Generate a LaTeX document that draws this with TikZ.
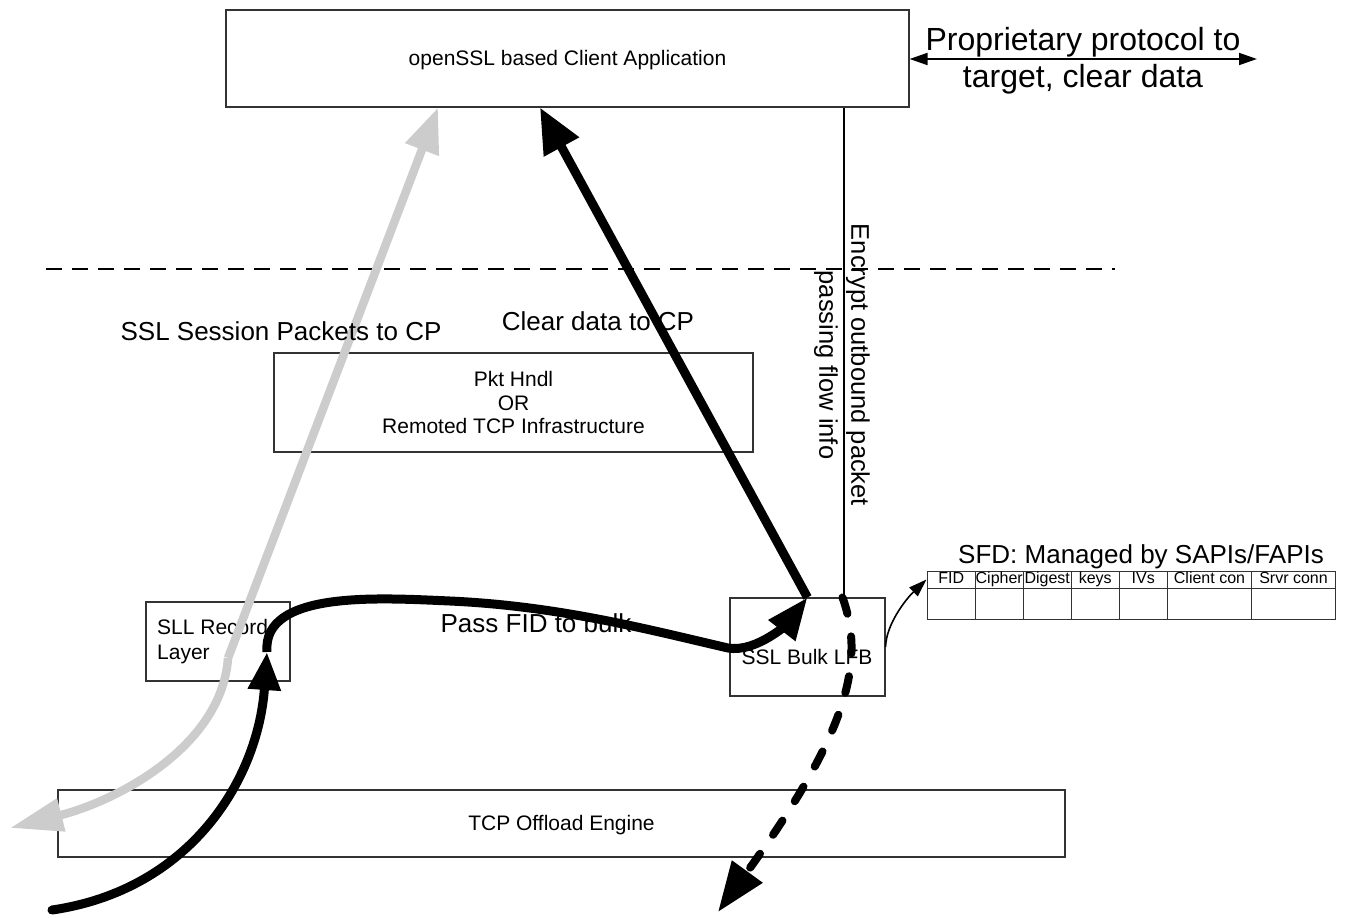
\documentclass[tikz,border=0pt]{standalone}
\usepackage{fontspec}
\setmainfont{Liberation Sans}
\usetikzlibrary{arrows.meta}
\begin{document}
\begin{tikzpicture}[x=1pt,y=-1pt,
  box/.style={draw=black!80, line width=1.1pt, inner sep=0pt},
  boxtxt/.style={font=\fontsize{21}{24}\selectfont, align=center, inner sep=0pt},
  lbl/.style={font=\fontsize{26}{31}\selectfont, inner sep=0pt},
  cell/.style={draw=black!80, line width=1pt, inner sep=0pt, font=\fontsize{16}{18}\selectfont},
  blackarrow/.style={line width=9pt, -{Triangle[length=45pt,width=38pt]}},
  greyarrow/.style={draw=black!20, line width=8.5pt, -{Triangle[length=45pt,width=34pt]}},
  thinarrow/.style={line width=1.6pt, -{Triangle[length=18pt,width=12pt]}}
]
\useasboundingbox (0,0) rectangle (1345,918);

% boxes
\node[box, minimum width=683pt, minimum height=97pt] (app) at (567.5,58.5) {};
\node[boxtxt] (apptxt) at ([yshift=-2pt]app.center) {openSSL based Client Application};
\node[box, boxtxt, minimum width=479pt, minimum height=99pt, font=\fontsize{21}{23.5}\selectfont] (pkt) at (513.5,402.5) {Pkt Hndl\\OR\\Remoted TCP Infrastructure};
\node[box, minimum width=144pt, minimum height=79pt] (sll) at (218,641.5) {};
\node[boxtxt, align=left, anchor=north west, font=\fontsize{21}{25.5}\selectfont] (slltxt) at (157,619) {SLL Record\\Layer};
\node[box, minimum width=155pt, minimum height=98pt] (bulk) at (807.5,647) {};
\node[boxtxt] (bulktxt) at (807,657) {SSL Bulk LFB};
\node[box, minimum width=1007pt, minimum height=67pt] (tcp) at (561.5,823.5) {};
\node[boxtxt] (tcptxt) at ([yshift=-2pt]tcp.center) {TCP Offload Engine};

% table
\node[lbl] (sfd) at (1141,557) {SFD: Managed by SAPIs/FAPIs};
\foreach \n/\a/\b/\t in {c1/927/975.5/FID, c2/975.5/1023/Cipher, c3/1023/1071.5/Digest, c4/1071.5/1119/keys, c5/1119/1167.5/IVs, c6/1167.5/1251.5/Client con, c7/1251.5/1335.5/Srvr conn}{
  \node[cell, minimum width=\b pt-\a pt, minimum height=17pt, text height=11.5pt, text depth=3.5pt] (h\n) at ({(\a+\b)/2},579.5) {\t};
  \node[cell, minimum width=\b pt-\a pt, minimum height=31pt] (r\n) at ({(\a+\b)/2},603.5) {};
}

% dashed separator
\coordinate (d1) at (46,269);
\coordinate (d2) at (1115,269);
\draw[line width=1.6pt, dash pattern=on 16pt off 10pt] (d1) -- (d2);

% thin connectors
\coordinate (pr) at (1257,59);
\draw[line width=1.8pt, {Triangle[length=18pt,width=12pt]}-{Triangle[length=18pt,width=12pt]}] (app.east |- pr) -- (pr);
\draw[line width=1.5pt] ([xshift=276.5pt]app.south) -- ([xshift=36.5pt]bulk.north);
\draw[thinarrow] (bulk.east) .. controls (886,625) and (905,600) .. (hc1.west);

% grey arrows
\coordinate (g0) at (228,658);
\coordinate (g1) at (10,828);
\draw[greyarrow] (g0) -- ([xshift=-129.5pt]app.south);
\draw[greyarrow, -{Triangle[length=53pt,width=32pt]}] (g0) .. controls (222,745) and (120,800) .. (g1);

% labels
\node[lbl] (ssl) at (281,331) {SSL Session Packets to CP};
\node[lbl] (clr) at (598,321) {Clear data to CP};
\node[lbl] (pass) at (536,623) {Pass FID to bulk};
\node[lbl, font=\fontsize{32}{37}\selectfont, align=center] (prop) at (1083,61) {Proprietary protocol to\\target, clear data};
\node[lbl, font=\fontsize{25.5}{32}\selectfont, align=center, rotate=-90] (enc) at (842,365) {Encrypt outbound packet\\passing flow info};

% black arrows
\coordinate (s0) at (52,910);
\coordinate (s1) at (267,652);
\draw[blackarrow, -{Triangle[length=38pt,width=31pt]}, line cap=round] (s0) .. controls (190,890) and (258,780) .. (s1);
\draw[blackarrow, -{Triangle[length=42pt,width=32pt]}] (s1) .. controls (262,590) and (380,598) .. (450,601)
  .. controls (560,606) and (650,630) .. (728,648) .. controls (758,653) and (790,620) .. (bulk.north);
\draw[blackarrow] (bulk.north) -- ([xshift=-27.5pt]app.south);

% dashed outbound arrow
\coordinate (o1) at (718,912);
\draw[line width=8pt, line cap=round, dash pattern=on 17pt off 23pt, -{Triangle[length=50pt,width=36pt]}] ([xshift=35pt]bulk.north) .. controls (865,660) and (850,730) .. (o1);
\end{tikzpicture}
\end{document}
